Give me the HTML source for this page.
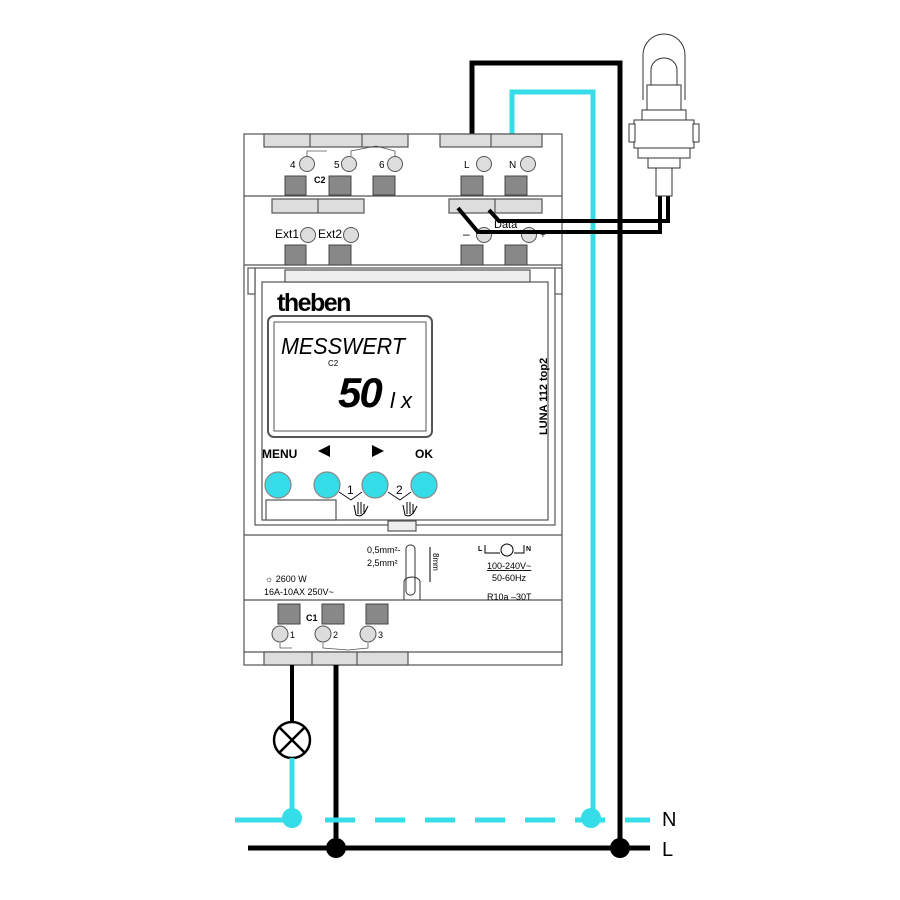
<!DOCTYPE html>
<html><head><meta charset="utf-8"><style>body{margin:0;background:#fff}svg{display:block}text{font-family:"Liberation Sans",sans-serif}</style></head><body>
<svg width="900" height="900" viewBox="0 0 900 900" xmlns="http://www.w3.org/2000/svg">
<polyline points="472,140 472,63 620,63 620,848" fill="none" stroke="#000" stroke-width="5"/>
<polyline points="512,140 512,92 593,92 593,818" fill="none" stroke="#35dde8" stroke-width="5"/>
<g fill="#fff" stroke="#555" stroke-width="1.2">
<rect x="244" y="134" width="318" height="531"/>
<line x1="244" y1="196" x2="562" y2="196"/>
<line x1="244" y1="265" x2="562" y2="265"/>
<line x1="244" y1="535" x2="562" y2="535"/>
<line x1="244" y1="600" x2="562" y2="600"/>
<line x1="244" y1="652" x2="562" y2="652"/>
<rect x="264" y="134" width="144" height="13" fill="#ddd"/>
<line x1="310" y1="134" x2="310" y2="147"/><line x1="362" y1="134" x2="362" y2="147"/>
<rect x="440" y="134" width="102" height="13" fill="#ddd"/>
<line x1="491" y1="134" x2="491" y2="147"/>
<rect x="272" y="199" width="92" height="14" fill="#ddd"/>
<line x1="318" y1="199" x2="318" y2="213"/>
<rect x="449" y="199" width="93" height="14" fill="#ddd"/>
<line x1="495" y1="199" x2="495" y2="213"/>
<rect x="264" y="652" width="144" height="13" fill="#ddd"/>
<line x1="312" y1="652" x2="312" y2="665"/><line x1="357" y1="652" x2="357" y2="665"/>
<rect x="255" y="268" width="300" height="257"/>
<rect x="262" y="282" width="286" height="238"/>
<rect x="285" y="270" width="245" height="12" fill="#eee"/>
<rect x="248" y="268" width="7" height="26"/><rect x="555" y="268" width="7" height="26"/>
<rect x="388" y="521" width="28" height="10" fill="#eee"/>
<rect x="266" y="500" width="70" height="20"/>
<rect x="268" y="316" width="164" height="121" rx="6" stroke-width="2"/>
<rect x="274" y="322" width="152" height="109" stroke-width="1"/>
</g>
<g fill="#ddd" stroke="#555" stroke-width="1">
<circle cx="307" cy="164" r="7.5"/><circle cx="349" cy="164" r="7.5"/><circle cx="395" cy="164" r="7.5"/>
<circle cx="484" cy="164" r="7.5"/><circle cx="528" cy="164" r="7.5"/>
<circle cx="308" cy="235" r="7.5"/><circle cx="351" cy="235" r="7.5"/>
<circle cx="484" cy="235" r="7.5"/><circle cx="529" cy="235" r="7.5"/>
<circle cx="280" cy="634" r="8"/><circle cx="323" cy="634" r="8"/><circle cx="368" cy="634" r="8"/>
</g>
<g fill="#888" stroke="#444" stroke-width="1">
<rect x="285" y="176" width="21" height="19"/><rect x="329" y="176" width="22" height="19"/><rect x="373" y="176" width="22" height="19"/>
<rect x="461" y="176" width="22" height="19"/><rect x="505" y="176" width="22" height="19"/>
<rect x="285" y="245" width="21" height="20"/><rect x="329" y="245" width="22" height="20"/>
<rect x="461" y="245" width="22" height="20"/><rect x="505" y="245" width="22" height="20"/>
<rect x="278" y="604" width="22" height="20"/><rect x="322" y="604" width="22" height="20"/><rect x="366" y="604" width="22" height="20"/>
</g>
<g fill="none" stroke="#555" stroke-width="0.8">
<polyline points="307,156 307,151 327,151"/><polyline points="351,156 351,151 376,146 395,151 395,156"/>
<polyline points="280,643 280,648 292,648"/><polyline points="323,643 323,648 348,650 368,648 368,643"/>
</g>
<g font-size="10" fill="#000">
<text x="290" y="168">4</text><text x="334" y="168">5</text><text x="379" y="168">6</text>
<text x="464" y="168">L</text><text x="509" y="168">N</text>
<text x="314" y="183" font-weight="bold" font-size="9">C2</text>
<text x="275" y="238" font-family="Liberation Mono" font-size="12">Ext1</text>
<text x="318" y="238" font-family="Liberation Mono" font-size="12">Ext2</text>
<text x="463" y="238" font-size="12">–</text><text x="540" y="238">+</text>
<text x="494" y="228" font-family="Liberation Mono" font-size="11">Data</text>
<text x="290" y="638" font-size="9">1</text><text x="333" y="638" font-size="9">2</text><text x="378" y="638" font-size="9">3</text>
<text x="306" y="621" font-weight="bold" font-size="9">C1</text>
</g>
<text x="277" y="311" font-size="25" font-weight="bold" letter-spacing="-1.5">theben</text>
<text x="281" y="354" font-size="23" font-style="italic" textLength="124" lengthAdjust="spacingAndGlyphs">MESSWERT</text>
<text x="328" y="366" font-size="8">C2</text>
<text x="338" y="407" font-size="42" font-weight="bold" font-style="italic" letter-spacing="-2">50</text>
<text x="390" y="408" font-size="22" font-style="italic">l x</text>
<text transform="translate(547,435) rotate(-90)" font-size="11" font-weight="bold">LUNA 112 top2</text>
<text x="262" y="458" font-size="12" font-weight="bold">MENU</text>
<polygon points="318,451 330,445 330,457" fill="#000"/>
<polygon points="384,451 372,445 372,457" fill="#000"/>
<text x="415" y="458" font-size="12" font-weight="bold">OK</text>
<g fill="#35dde8" stroke="#888" stroke-width="1.2">
<circle cx="278" cy="485" r="13"/><circle cx="327" cy="485" r="13"/><circle cx="375" cy="485" r="13"/><circle cx="424" cy="485" r="13"/>
</g>
<polyline points="339,492 351,500 362,492" fill="none" stroke="#000" stroke-width="0.8"/>
<polyline points="388,492 400,500 411,492" fill="none" stroke="#000" stroke-width="0.8"/>
<text x="347" y="494" font-size="12">1</text><text x="396" y="494" font-size="12">2</text>
<g fill="none" stroke="#000" stroke-width="1">
<path d="M356,515 L354,505 M358,514 V502 M361,514 V502 M364,514 V504 M356,515 Q362,518 366,510 L368,506"/>
<path d="M405,515 L403,505 M407,514 V502 M410,514 V502 M413,514 V504 M405,515 Q411,518 415,510 L417,506"/>
</g>
<g font-size="9" fill="#000">
<text x="367" y="553">0,5mm²-</text><text x="367" y="566">2,5mm²</text>
<text x="265" y="582">☼ 2600 W</text><text x="264" y="595">16A-10AX 250V~</text>
<text x="487" y="569" text-decoration="underline">100-240V~</text><text x="492" y="581">50-60Hz</text>
<text x="487" y="600">R10a –30T</text>
<text x="478" y="551" font-size="7" font-weight="bold">L</text><text x="526" y="551" font-size="7" font-weight="bold">N</text>
</g>
<polyline points="485,545 485,553 500,553" fill="none" stroke="#000"/><polyline points="514,553 524,553 524,545" fill="none" stroke="#000"/>
<circle cx="507" cy="550" r="6" fill="none" stroke="#000"/>
<rect x="406" y="545" width="9" height="50" rx="4" fill="#fff" stroke="#333"/>
<path d="M404,600 V582 A8,5 0 0 1 420,582 V600" fill="none" stroke="#333"/>
<line x1="430" y1="547" x2="430" y2="582" stroke="#000"/>
<text transform="translate(433,553) rotate(90)" font-size="8">8mm</text>
<polyline points="458,208 478,232 660,232 660,196" fill="none" stroke="#000" stroke-width="4"/>
<polyline points="489,210 499,221 668,221 668,196" fill="none" stroke="#000" stroke-width="4"/>
<g fill="#fff" stroke="#333" stroke-width="1">
<path d="M643,100 V55 A21,21 0 0 1 685,55 V100"/>
<path d="M651,70 A13,12 0 0 1 677,70 V85 H651Z"/>
<rect x="647" y="85" width="34" height="25"/>
<rect x="642" y="110" width="44" height="10"/>
<rect x="634" y="120" width="60" height="28"/>
<rect x="629" y="124" width="6" height="18"/><rect x="693" y="124" width="6" height="18"/>
<rect x="638" y="148" width="52" height="10"/>
<rect x="648" y="158" width="32" height="10"/>
<rect x="656" y="168" width="16" height="28"/>
</g>
<line x1="292" y1="665" x2="292" y2="722" stroke="#000" stroke-width="4"/>
<circle cx="292" cy="740" r="18" fill="#fff" stroke="#000" stroke-width="2.5"/>
<line x1="279" y1="727" x2="305" y2="753" stroke="#000" stroke-width="2.5"/><line x1="305" y1="727" x2="279" y2="753" stroke="#000" stroke-width="2.5"/>
<line x1="292" y1="758" x2="292" y2="818" stroke="#35dde8" stroke-width="5"/>
<line x1="336" y1="665" x2="336" y2="848" stroke="#000" stroke-width="5"/>
<line x1="235" y1="820" x2="300" y2="820" stroke="#35dde8" stroke-width="5"/>
<line x1="325" y1="820" x2="650" y2="820" stroke="#35dde8" stroke-width="5" stroke-dasharray="30,20"/>
<line x1="248" y1="848" x2="650" y2="848" stroke="#000" stroke-width="5"/>
<circle cx="292" cy="818" r="10" fill="#35dde8"/><circle cx="591" cy="818" r="10" fill="#35dde8"/>
<circle cx="336" cy="848" r="10" fill="#000"/><circle cx="620" cy="848" r="10" fill="#000"/>
<text x="662" y="826" font-size="20">N</text><text x="662" y="856" font-size="20">L</text>
</svg>
</body></html>
